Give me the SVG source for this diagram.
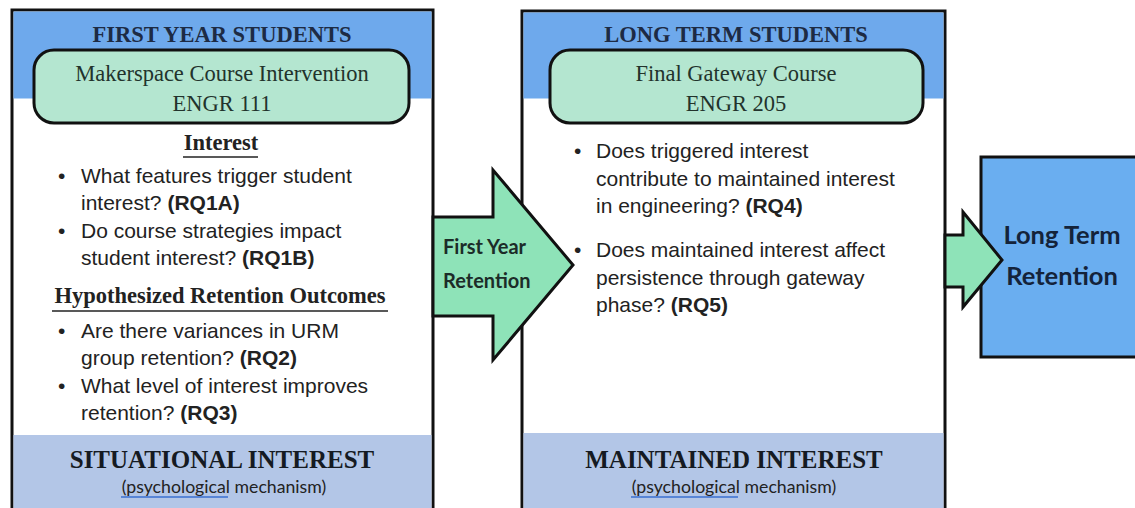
<svg xmlns="http://www.w3.org/2000/svg" width="1135" height="508" viewBox="0 0 1135 508">
<style>
.panel{fill:#ffffff;stroke:#111;stroke-width:3}
.hdr{fill:#6ea9ec}
.band{fill:#b3c6e7}
.course{fill:#b4e6d0;stroke:#111;stroke-width:3}
.arrow{fill:#8ee3b8;stroke:#111;stroke-width:3;stroke-linejoin:miter}
.ttl{font-family:"Liberation Serif",serif;font-weight:bold;font-size:22.5px;fill:#1d2b44;text-anchor:middle}
.crs{font-family:"Liberation Serif",serif;font-size:22.5px;fill:#22332c;text-anchor:middle}
.sub{font-family:"Liberation Serif",serif;font-weight:bold;font-size:22.5px;fill:#222;text-anchor:middle}
.q{font-family:"Liberation Sans",Arial,sans-serif;font-size:21px;fill:#222}
.qb{font-weight:bold}
.big{font-family:"Liberation Serif",serif;font-weight:bold;font-size:25px;fill:#151a22;text-anchor:middle}
.mech{font-family:Lato,"Open Sans",sans-serif;font-size:17.7px;fill:#222;text-anchor:middle}
.arrtxt{font-family:Lato,"Open Sans",sans-serif;font-weight:bold;font-size:20px;fill:#1c2c28}
.ret{font-family:Lato,"Open Sans",sans-serif;font-weight:bold;font-size:25.5px;fill:#14233a;text-anchor:middle}
.ul{stroke:#222;stroke-width:1.6}
.spell{stroke:#3a6fd0;stroke-width:1.5}
</style>
<g id="first-year-students">
  <rect class="panel" x="12" y="10" width="421" height="520"/>
  <rect class="hdr" x="13.5" y="11.5" width="418" height="87"/>
  <rect class="band" x="13.5" y="435" width="418" height="75"/>
  <text class="ttl" x="222" y="42">FIRST YEAR STUDENTS</text>
  <rect class="course" x="34" y="50" width="375" height="73" rx="20"/>
  <text class="crs" x="222" y="81">Makerspace Course Intervention</text>
  <text class="crs" x="222" y="111">ENGR 111</text>
  <text class="sub" x="221" y="150">Interest</text>
  <line class="ul" x1="183" y1="157" x2="258" y2="157"/>
  <text class="q" x="58" y="183">•</text>
  <text class="q" x="81" y="183">What features trigger student</text>
  <text class="q" x="81" y="210">interest? <tspan class="qb">(RQ1A)</tspan></text>
  <text class="q" x="58" y="238">•</text>
  <text class="q" x="81" y="238">Do course strategies impact</text>
  <text class="q" x="81" y="265">student interest? <tspan class="qb">(RQ1B)</tspan></text>
  <text class="sub" x="220" y="303">Hypothesized Retention Outcomes</text>
  <line class="ul" x1="52" y1="311" x2="388" y2="311"/>
  <text class="q" x="58" y="338">•</text>
  <text class="q" x="81" y="338">Are there variances in URM</text>
  <text class="q" x="81" y="365">group retention? <tspan class="qb">(RQ2)</tspan></text>
  <text class="q" x="58" y="393">•</text>
  <text class="q" x="81" y="393">What level of interest improves</text>
  <text class="q" x="81" y="420">retention? <tspan class="qb">(RQ3)</tspan></text>
  <text class="big" x="222" y="468">SITUATIONAL INTEREST</text>
  <text class="mech" x="224" y="493">(psychological mechanism)</text>
  <line class="spell" x1="121" y1="497" x2="228" y2="497"/>
</g>
<g id="long-term-students">
  <rect class="panel" x="522" y="11" width="423" height="520"/>
  <rect class="hdr" x="523.5" y="12.5" width="420" height="86"/>
  <rect class="band" x="523.5" y="433" width="420" height="77"/>
  <text class="ttl" x="736" y="42">LONG TERM STUDENTS</text>
  <rect class="course" x="550" y="50" width="373" height="73" rx="20"/>
  <text class="crs" x="736" y="81">Final Gateway Course</text>
  <text class="crs" x="736" y="111">ENGR 205</text>
  <text class="q" x="574" y="158">•</text>
  <text class="q" x="596" y="158">Does triggered interest</text>
  <text class="q" x="596" y="186">contribute to maintained interest</text>
  <text class="q" x="596" y="213">in engineering? <tspan class="qb">(RQ4)</tspan></text>
  <text class="q" x="574" y="257">•</text>
  <text class="q" x="596" y="257">Does maintained interest affect</text>
  <text class="q" x="596" y="285">persistence through gateway</text>
  <text class="q" x="596" y="312">phase? <tspan class="qb">(RQ5)</tspan></text>
  <text class="big" x="734" y="468">MAINTAINED INTEREST</text>
  <text class="mech" x="734" y="493">(psychological mechanism)</text>
  <line class="spell" x1="631" y1="497" x2="738" y2="497"/>
</g>
<g id="long-term-retention">
  <rect x="981" y="157" width="170" height="200" fill="#6aaef0" stroke="#111" stroke-width="3"/>
  <text class="ret" x="1062" y="244">Long Term</text>
  <text class="ret" x="1062" y="285">Retention</text>
</g>
<g id="connectors">
  <polygon class="arrow" points="433,217 493,217 493,170 573,265 493,360 493,316 433,316"/>
  <text class="arrtxt" x="443" y="254">First Year</text>
  <text class="arrtxt" x="443" y="288">Retention</text>
  <polygon class="arrow" points="945,235 963,235 963,212 1002,260 963,307 963,287 945,287"/>
</g>
</svg>
